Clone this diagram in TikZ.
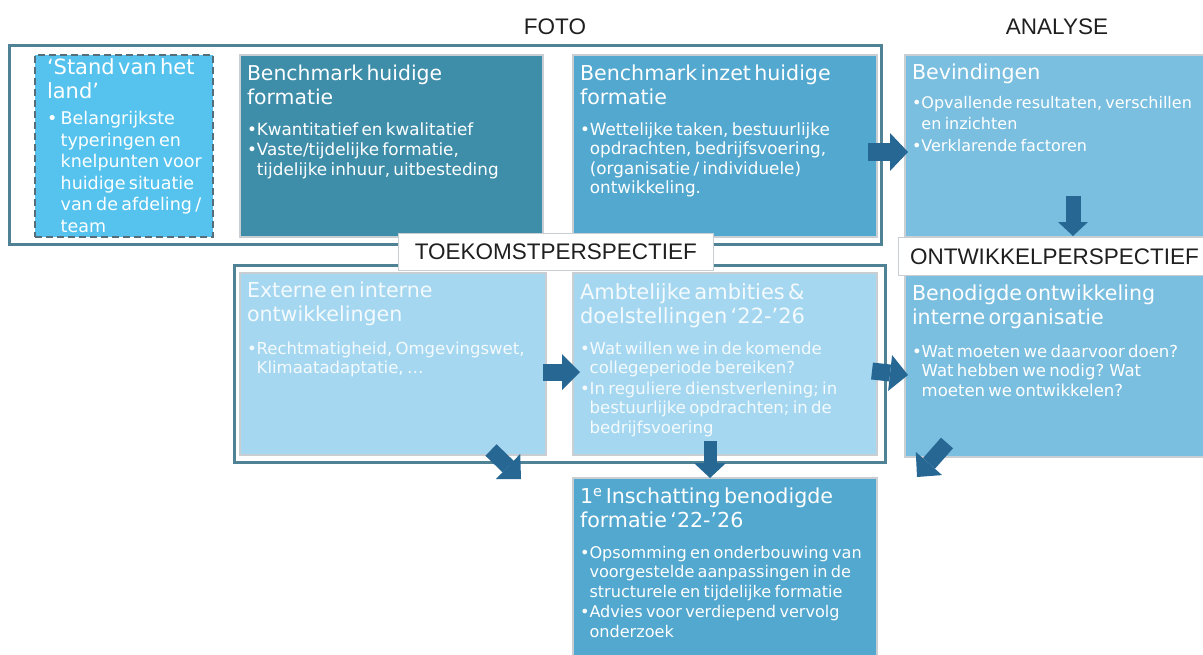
\documentclass[tikz,border=0pt]{standalone}
\usepackage{fontspec}
\setmainfont{DejaVu Sans}
\newfontfamily\lblfont{Liberation Sans}
\usetikzlibrary{arrows.meta}

\definecolor{frameC}{RGB}{80,130,150}
\definecolor{edgeC}{RGB}{200,206,210}
\definecolor{dashC}{RGB}{85,110,122}
\definecolor{standC}{RGB}{85,195,238}
\definecolor{darkC}{RGB}{62,142,170}
\definecolor{midC}{RGB}{82,168,206}
\definecolor{softC}{RGB}{122,191,224}
\definecolor{paleC}{RGB}{165,216,240}
\definecolor{arrowC}{RGB}{38,103,148}
\definecolor{paleText}{RGB}{244,250,253}

\newlength\bulw
\newcommand\hsz{20.6}
\newcommand\bsz{16.5}
\newcommand\bls{19.5}
% panel heading
\newcommand\hd[1]{{\fontsize{\hsz}{24}\selectfont\vrule height 15pt width 0pt #1\par}}
% bullet paragraph with hanging indent
\newcommand\bu[1]{{\fontsize{\bsz}{\bls}\selectfont\settowidth\bulw{•}\hangindent=\bulw\hangafter=1 •#1\par}}
% bullet with a space, larger text (first panel)
\newcommand\bus[1]{{\fontsize{17.5}{21.5}\selectfont\settowidth\bulw{•\ }\hangindent=\bulw\hangafter=1 •\ #1\par}}
\newcommand\gap[1]{\vskip #1\relax}

\tikzset{
  panel/.style={draw=edgeC, line width=1.5pt, anchor=north west, inner sep=0pt, outer sep=0pt},
  body/.style={anchor=north west, inner sep=0pt, outer sep=0pt, text width=#1, text=white,
    execute at begin node={\parindent=0pt\parskip=1pt\raggedright}},
  outerframe/.style={draw=frameC, line width=3pt},
  labeltag/.style={fill=white, draw=edgeC, line width=0.8pt, anchor=north west, inner sep=0pt,
    font=\lblfont\fontsize{22.5}{26}\selectfont, text=black!88},
  heading/.style={font=\lblfont\fontsize{22.5}{26}\selectfont, text=black!88, inner sep=0pt},
  bigarrow/.style n args={3}{draw=arrowC, line width=#1,
    -{Triangle[length=#3 0 0, width=#2 0 0, line width=0pt 0 0]}},
}

\begin{document}
\begin{tikzpicture}[x=1pt,y=-1pt]
\useasboundingbox (0,0) rectangle (1203,654);

% column headings
\node[heading] (foto) at (555,27) {FOTO};
\node[heading] (analyse) at (1057,27) {ANALYSE};

% group frames
\draw[outerframe] (9,45) rectangle (881,244);
\draw[outerframe] (234,265) rectangle (885,462);

% panels
\node[panel, draw=dashC, line width=2.5pt, dash pattern=on 7pt off 4pt, fill=standC,
      minimum width=178pt, minimum height=182pt] (stand) at (35,55) {};
\node[panel, fill=darkC, minimum width=303pt, minimum height=182pt] (bh) at (240,55) {};
\node[panel, fill=midC, minimum width=304pt, minimum height=182pt] (bi) at (573,55) {};
\node[panel, fill=softC, minimum width=310pt, minimum height=182pt] (bev) at (905,55) {};
\node[panel, fill=paleC, minimum width=306pt, minimum height=182pt] (ext) at (240,273) {};
\node[panel, fill=paleC, minimum width=304pt, minimum height=182pt] (amb) at (573,273) {};
\node[panel, fill=softC, minimum width=310pt, minimum height=182pt] (ben) at (905,275) {};
\node[panel, fill=midC, minimum width=304pt, minimum height=190pt] (ins) at (573,478) {};

% panel texts
\node[body=170pt] (stand-t) at ([shift={(12,3.5)}]stand.north west) {%
  {\renewcommand\hsz{21}\hd{‘Stand van het\newline land’}}\gap{4pt}
  \bus{Belangrijkste\newline typeringen en\newline knelpunten voor\newline huidige situatie\newline van de afdeling /\newline team}};

\node[body=300pt] (bh-t) at ([shift={(7,10)}]bh.north west) {%
  \renewcommand\hsz{20.4}\renewcommand\bsz{16.8}%
  \hd{Benchmark huidige\newline formatie}\gap{10pt}
  \bu{Kwantitatief en kwalitatief}
  \bu{Vaste/tijdelijke formatie,\newline tijdelijke inhuur, uitbesteding}};

\node[body=300pt] (bi-t) at ([shift={(7,10)}]bi.north west) {%
  \renewcommand\bsz{16.8}%
  \hd{Benchmark inzet huidige\newline formatie}\gap{10pt}
  \bu{Wettelijke taken, bestuurlijke\newline opdrachten, bedrijfsvoering,\newline (organisatie / individuele)\newline ontwikkeling.}};

\node[body=300pt] (bev-t) at ([shift={(7,9)}]bev.north west) {%
  \renewcommand\bsz{16}\renewcommand\bls{21}%
  \hd{Bevindingen}\gap{7pt}
  \bu{Opvallende resultaten, verschillen\newline en inzichten}
  \bu{Verklarende factoren}};

\node[body=300pt, text=paleText] (ext-t) at ([shift={(7,9)}]ext.north west) {%
  \hd{Externe en interne\newline ontwikkelingen}\gap{12pt}
  \bu{Rechtmatigheid, Omgevingswet,\newline Klimaatadaptatie, …}};

\node[body=300pt, text=paleText] (amb-t) at ([shift={(7,11)}]amb.north west) {%
  \renewcommand\hsz{21}%
  \hd{Ambtelijke ambities \&\newline doelstellingen ‘22-’26}\gap{10pt}
  \bu{Wat willen we in de komende\newline collegeperiode bereiken?}
  \bu{In reguliere dienstverlening; in\newline bestuurlijke opdrachten; in de\newline bedrijfsvoering}};

\node[body=300pt] (ben-t) at ([shift={(7,10)}]ben.north west) {%
  \hd{Benodigde ontwikkeling\newline interne organisatie}\gap{12pt}
  \bu{Wat moeten we daarvoor doen?\newline Wat hebben we nodig? Wat\newline moeten we ontwikkelen?}};

\node[body=300pt] (ins-t) at ([shift={(7,10)}]ins.north west) {%
  \renewcommand\bsz{16.1}%
  \hd{1\textsuperscript{e} Inschatting benodigde\newline formatie ‘22-’26}\gap{10pt}
  \bu{Opsomming en onderbouwing van\newline voorgestelde aanpassingen in de\newline structurele en tijdelijke formatie}
  \bu{Advies voor verdiepend vervolg\newline onderzoek}};

% section labels
\node[labeltag, minimum width=315pt, minimum height=37pt] (toek) at (398,233) {TOEKOMSTPERSPECTIEF};
\node[labeltag, minimum width=312pt, minimum height=38pt] (ontw) at (898,237) {ONTWIKKELPERSPECTIEF};

% block arrows between panels
\draw[bigarrow={18pt}{38pt}{18pt}] ([shift={(-9,6)}]bi.east) -- ([shift={(3,6)}]bev.west);
\draw[bigarrow={15pt}{30pt}{14pt}] ([shift={(168,141)}]bev.north west) -- ([shift={(168,-1)}]bev.south west);
\draw[bigarrow={17pt}{36pt}{18pt}] ([shift={(-3,8)}]ext.east) -- ([shift={(7,8)}]amb.west);
\draw[bigarrow={17pt}{36pt}{18pt}] ([shift={(-5,7)}]amb.east) -- ([shift={(3,9)}]ben.west);
\draw[bigarrow={13pt}{32pt}{15pt}] ([shift={(-15,-14)}]amb.south) -- ([shift={(-15,0)}]ins.north);
\draw[bigarrow={16pt}{35pt}{18pt}] ([shift={(-55,-5)}]ext.south east) -- ([shift={(-25,24)}]ext.south east);
\draw[bigarrow={16pt}{35pt}{18pt}] ([shift={(42,-14)}]ben.south west) -- ([shift={(12,20)}]ben.south west);
\end{tikzpicture}
\end{document}
